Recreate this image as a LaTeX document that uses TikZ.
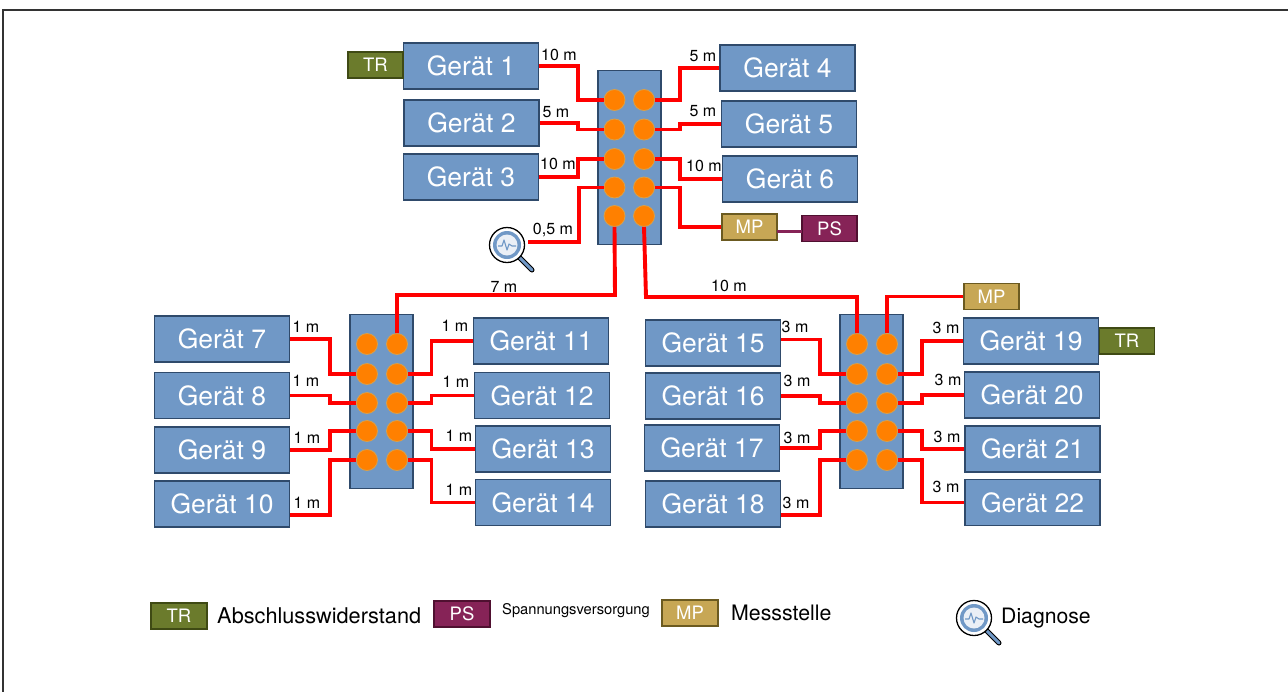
\documentclass[tikz,border=0pt]{standalone}
\usepackage{fontspec}
\setmainfont{TeX Gyre Heros}
\definecolor{boxblue}{HTML}{7098C6}
\definecolor{boxedge}{HTML}{2F4A6B}
\definecolor{wirered}{HTML}{FF0000}
\definecolor{portor}{HTML}{FF8000}
\definecolor{portedge}{HTML}{D9A04A}
\definecolor{trfill}{HTML}{6B7B2C}
\definecolor{tredge}{HTML}{3F4A14}
\definecolor{mpfill}{HTML}{C7A755}
\definecolor{mpedge}{HTML}{6B5A20}
\definecolor{psfill}{HTML}{862357}
\definecolor{psedge}{HTML}{4F1030}
\tikzset{
  x=1pt,y=-1pt,
  geraet/.style={draw=boxedge,fill=boxblue,line width=1.3pt,minimum width=135pt,minimum height=46pt,inner sep=0pt,text=white,font=\fontsize{26.5}{28}\selectfont},
  hub/.style={draw=boxedge,fill=boxblue,line width=1.3pt,minimum width=63pt,minimum height=174pt,inner sep=0pt},
  port/.style={circle,draw=portedge,fill=portor,line width=0.8pt,minimum size=21pt,inner sep=0pt},
  tag/.style={minimum width=55pt,minimum height=26pt,inner sep=0pt,line width=1.3pt,text=white,font=\fontsize{18.5}{20}\selectfont},
  trtag/.style={tag,draw=tredge,fill=trfill},
  mptag/.style={tag,draw=mpedge,fill=mpfill},
  pstag/.style={tag,draw=psedge,fill=psfill},
  wire/.style={draw=wirered,line width=3.9pt,line join=miter},
  len/.style={inner sep=0pt,font=\fontsize{16}{17}\selectfont},
  legend/.style={anchor=west,inner sep=0pt,text=black},
}
% \diagicon{name}{x}{y}
\newcommand{\diagicon}[3]{%
  \draw[line width=5pt,line cap=round,black] (#2+13,#3+13) -- (#2+25,#3+25);
  \draw[line width=3pt,line cap=round,boxblue] (#2+13,#3+13) -- (#2+25,#3+25);
  \node[circle,draw=black,line width=1.3pt,fill=white,minimum size=35pt,inner sep=0pt] (#1) at (#2,#3) {};
  \fill[boxblue] (#2,#3) circle[radius=14];
  \fill[white!85!boxblue] (#2,#3) circle[radius=10.5];
  \draw[boxblue,line width=1.1pt,line join=round] (#2-9,#3+1) -- (#2-5,#3+1) -- (#2-3,#3-5) -- (#2,#3+5) -- (#2+2,#3-1) -- (#2+5,#3+1) -- (#2+9,#3+1);
}
\begin{document}
\begin{tikzpicture}
\useasboundingbox (0,0) rectangle (1288,691);
\fill[white] (0,0) rectangle (1288,691);
\draw[black!80,line width=1.1pt] (3,695) -- (3,10) -- (1292,10);

% devices
\foreach \n/\cx/\cy in {1/471/66,2/471.5/123,3/471/177,4/787.5/68,5/789/124,6/790/179,
  7/222/339,8/222/395.5,9/222/450,10/222/504,11/541/341,12/542/395.5,13/543/449,14/543/502.5,
  15/713/343,16/713/396,17/712/448,18/713/504,19/1031/341,20/1032/395,21/1032.5/449,22/1032.5/502.5}
  \node[geraet] (g\n) at (\cx,\cy) {Gerät \n};

% hubs
\node[hub] (hubA) at (629.5,157.5) {};
\node[hub] (hubB) at (381.5,401.5) {};
\node[hub] (hubC) at (871.5,401.5) {};

% ports
\foreach \r/\yy in {1/100,2/129.5,3/159,4/187.5,5/216}{
  \node[port] (al\r) at (614.5,\yy) {};
  \node[port] (ar\r) at (644,\yy) {};
}
\foreach \r/\yy in {1/344,2/374,3/403,4/431,5/460}{
  \node[port] (bl\r) at (367,\yy) {};
  \node[port] (br\r) at (397,\yy) {};
  \node[port] (cl\r) at (857,\yy) {};
  \node[port] (cr\r) at (887,\yy) {};
}

% tags
\node[trtag] (tr1) at (375.5,65) {TR};
\node[trtag] (tr2) at (1127,341) {TR};
\node[mptag] (mp1) at (749.5,227) {MP};
\node[pstag] (ps1) at (829.5,228.5) {PS};
\node[mptag] (mp2) at (991.5,296.5) {MP};

\diagicon{diagA}{507}{245}
\coordinate (diagEnd) at (528,242);

% wires: top group
\draw[wire] (g1.east) -- (578,66) |- (al1.west);
\draw[wire] (g2.east) -- (578,123) |- (al2.west);
\draw[wire] (g3.east) -- (578,177) |- (al3.west);
\draw[wire] (diagEnd) -- (579,242) |- (al4.west);
\draw[wire] (g4.west) -- (680,68) |- (ar1.east);
\draw[wire] (g5.west) -- (680,124) |- (ar2.east);
\draw[wire] (g6.west) -- (680,179) |- (ar3.east);
\draw[wire] (mp1.west) -- (680,227) |- (ar4.east);
\coordinate (mpps1) at (777,231);
\coordinate (mpps2) at (802,231);
\draw[draw=psfill,line width=3pt] (mpps1) -- (mpps2);

% wires: left group
\draw[wire] (g7.east) -- (330,339) |- (bl2.west);
\draw[wire] (g8.east) -- (330,395.5) |- (bl3.west);
\draw[wire] (g9.east) -- (330,450) |- (bl4.west);
\coordinate (g10w) at (290,515);
\draw[wire] (g10w) -- (330,515) |- (bl5.west);
\draw[wire] (g11.west) -- (431.5,341) |- (br2.east);
\draw[wire] (g12.west) -- (431.5,395.5) |- (br3.east);
\draw[wire] (g13.west) -- (431.5,449) |- (br4.east);
\draw[wire] (g14.west) -- (431.5,502.5) |- (br5.east);

% wires: right group
\coordinate (g15w) at (781,339.5);
\draw[wire] (g15w) -- (820,339.5) |- (cl2.west);
\draw[wire] (g16.east) -- (820,396) |- (cl3.west);
\draw[wire] (g17.east) -- (820,448) |- (cl4.west);
\coordinate (g18w) at (781,515);
\draw[wire] (g18w) -- (820,515) |- (cl5.west);
\draw[wire] (g19.west) -- (922,341) |- (cr2.east);
\draw[wire] (g20.west) -- (922,395) |- (cr3.east);
\draw[wire] (g21.west) -- (922,449) |- (cr4.east);
\draw[wire] (g22.west) -- (922,502.5) |- (cr5.east);

% trunks
\draw[wire] (al5.south) -- (615,295) -| (br1.north);
\draw[wire] (ar5.south) -- (646,297) -| (cl1.north);
\draw[wire] (cr1.north) |- (mp2.west);

% lengths
\foreach \nm/\cx/\cy/\txt in {a1/559/54.5/10 m,a2/556/112/5 m,a3/558/164/10 m,a4/553/230/{0,5 m},
  a5/703/56/5 m,a6/703/111/5 m,a7/704/166/10 m,a8/504/287/7 m,a9/729/286/10 m,
  b1/306/327/1 m,b2/306/381/1 m,b3/307/438/1 m,b4/307/503/1 m,
  b5/455/326/1 m,b6/456/382/1 m,b7/459/436/1 m,b8/459/490/1 m,
  c1/795/327/3 m,c2/797/381/3 m,c3/797/438/3 m,c4/796/503/3 m,
  c5/946/328/3 m,c6/948/380/3 m,c7/947/437/3 m,c8/946/487/3 m}
  \node[len] (\nm) at (\cx,\cy) {\txt};

% legend
\node[trtag,minimum width=56pt] (ltr) at (179,616) {TR};
\node[legend,font=\fontsize{21.7}{24}\selectfont] (ltrt) at (217,616) {Abschlusswiderstand};
\node[pstag,minimum width=56pt] (lps) at (462,614) {PS};
\node[legend,font=\fontsize{14.7}{16}\selectfont] (lpst) at (502,611) {Spannungsversorgung};
\node[mptag,minimum width=56pt] (lmp) at (690,613) {MP};
\node[legend,font=\fontsize{21.3}{24}\selectfont] (lmpt) at (731,613) {Messstelle};
\diagicon{diagB}{974}{618}
\node[legend,font=\fontsize{21.2}{24}\selectfont] (ldt) at (1001,618.5) {Diagnose};
\end{tikzpicture}
\end{document}
